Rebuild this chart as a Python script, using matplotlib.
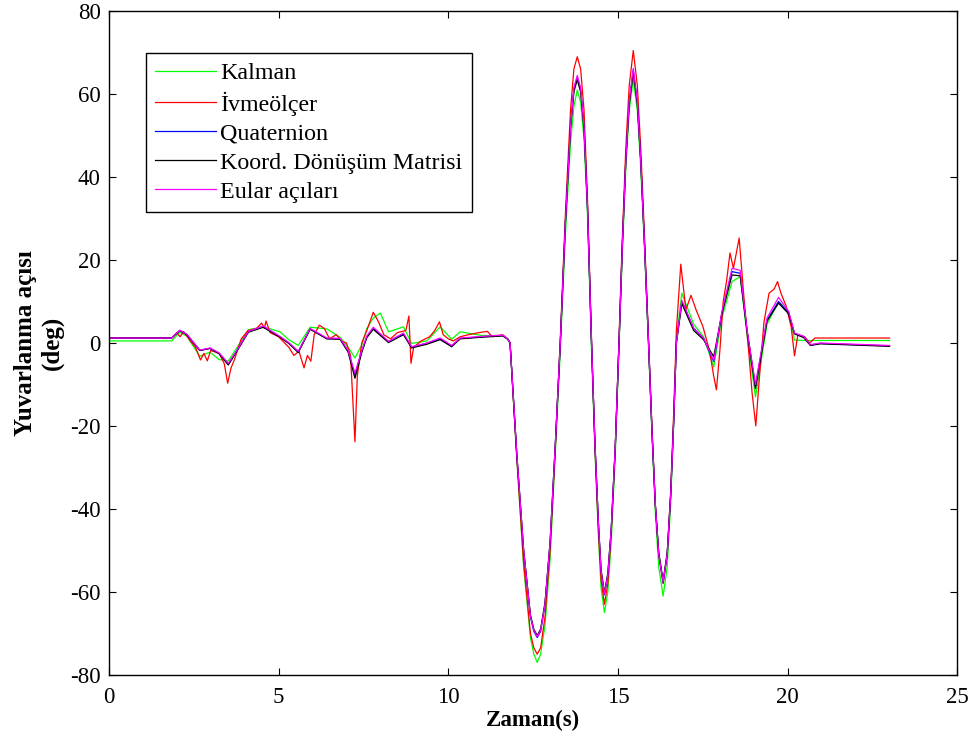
import matplotlib
matplotlib.use("Agg")
import matplotlib.pyplot as plt

plt.rcParams['font.family'] = ['Liberation Serif', 'DejaVu Serif']
plt.rcParams['axes.unicode_minus'] = False

# time base for the smooth estimators (s)
t = [0.0, 1.85, 2.09, 2.3, 2.68, 2.98, 3.25, 3.52, 3.8, 4.11,
     4.55, 5.04, 5.3, 5.58, 5.93, 6.42, 6.81, 7.05, 7.25, 7.45,
     7.6, 7.79, 8.0, 8.24, 8.68, 8.92, 9.37, 9.76, 10.1, 10.35,
     11.0, 11.6, 11.75,
     11.82, 12.02, 12.22, 12.42, 12.52, 12.62, 12.72, 12.85, 13.0, 13.15,
     13.3, 13.45, 13.6, 13.7, 13.8, 13.9, 14.0, 14.1, 14.22, 14.32,
     14.42, 14.5, 14.6, 14.7, 14.8, 14.92, 15.03, 15.13, 15.23, 15.33,
     15.45, 15.57, 15.67, 15.78, 15.9, 16.0, 16.1, 16.2, 16.33, 16.45,
     16.55, 16.64, 16.72,
     16.88, 17.23, 17.52, 17.82, 18.06, 18.36, 18.6, 18.8, 19.05, 19.39,
     19.73, 20.03, 20.2, 20.47, 20.67, 20.96, 23.0]

quaternion = [1.2, 1.2, 3.0, 2.0, -1.8, -1.3, -2.5, -5.1, -1.5, 2.7,
              3.9, 1.5, 0.0, -2.1, 3.4, 1.1, 1.0, -2.0, -7.7, -2.0,
              1.5, 3.5, 2.0, 0.3, 2.2, -1.0, -0.1, 1.0, -0.7, 1.1,
              1.5, 1.8, 1.0,
              0, -27, -50, -66, -69.5, -71, -69.5, -63, -48, -25,
              0, 29, 52, 61, 64, 61, 52, 33, 0, -24,
              -43, -55, -60.7, -56, -45, -25, 0, 24, 44, 58,
              65.8, 58, 44, 24, 0, -21, -39, -51, -57.8, -51,
              -37, -19, 0,
              10, 3.5, 1.1, -4.5, 7.2, 17.2, 16.8, 3.1, -10.5, 5.5,
              10, 7.2, 2.3, 1.5, -0.5, -0.1, -0.7]

koord = [1.2, 1.2, 3.0, 2.0, -1.8, -1.3, -2.6, -5.3, -1.6, 2.6,
         3.8, 1.4, -0.1, -2.3, 3.3, 1.0, 0.9, -2.2, -8.5, -2.3,
         1.3, 3.3, 1.8, 0.1, 2.0, -1.2, -0.3, 0.8, -0.9, 1.0,
         1.4, 1.7, 1.0,
         0, -27, -50, -65.5, -69, -70.5, -69, -62.5, -48, -25,
         0, 29, 51.5, 60.5, 63.5, 60.5, 51.5, 33, 0, -24,
         -43, -54.5, -60.2, -55.5, -45, -25, 0, 24, 44, 57.5,
         65.3, 57.5, 44, 24, 0, -21, -39, -50.5, -57.3, -50.5,
         -37, -19, 0,
         9.5, 3.0, 0.8, -3.3, 7.0, 16.4, 16.2, 3.0, -11.0, 5.3,
         9.6, 7.0, 2.2, 1.3, -0.6, -0.2, -0.8]

euler = [1.2, 1.2, 3.1, 2.1, -1.7, -1.2, -2.4, -4.9, -1.4, 2.8,
         4.1, 1.6, 0.1, -2.0, 3.5, 1.2, 1.1, -1.8, -7.3, -1.8,
         1.7, 3.8, 2.2, 0.4, 2.4, -0.9, 0.0, 1.2, -0.6, 1.2,
         1.6, 1.9, 1.0,
         0, -27, -50, -65.8, -69.3, -70.8, -69.3, -63, -48, -25,
         0, 29, 52, 61.5, 64.5, 61.5, 52, 33, 0, -24,
         -43, -55, -60.5, -56, -45, -25, 0, 24, 44, 58.3,
         66.2, 58.3, 44, 24, 0, -21, -39, -51, -57.5, -51,
         -37, -19, 0,
         10.3, 3.6, 1.2, -4.3, 7.5, 18.0, 17.5, 3.3, -10.0, 6.0,
         11.0, 7.6, 2.4, 1.6, -0.4, 0.0, -0.6]

kalman = [0.5, 0.5, 2.6, 1.6, -3.2, -2.2, -4.0, -4.3, -0.8, 3.2,
          3.9, 2.7, 0.8, -0.6, 3.8, 3.4, 1.4, -1.0, -3.6, -0.5,
          3.5, 6.0, 7.2, 2.7, 3.9, -0.1, 0.5, 3.9, 0.9, 2.7,
          1.8, 1.8, 0.8,
          0, -28, -54, -71, -75, -77, -75, -68, -52, -27,
          -2, 26, 48, 57, 61, 58, 49, 31, -2, -26,
          -46, -59, -65, -60, -48, -27, -1, 22, 42, 56,
          63.5, 56, 42, 23, -1, -22, -41, -54, -61, -54,
          -39, -20, 1,
          12, 4.5, 1.5, -5.8, 6.0, 14.8, 16.0, 2.0, -13, 4.5,
          10, 7.4, 0.7, 0.6, 0.6, 0.6, 0.6]

# accelerometer estimate is noisier, so it has its own time base
t_acc = [0.0, 1.85, 2.0, 2.1, 2.2, 2.4, 2.55, 2.7, 2.8, 2.9,
         3.0, 3.25, 3.4, 3.5, 3.6, 3.7, 3.9, 4.1, 4.35, 4.5,
         4.58, 4.63, 4.75, 5.0, 5.3, 5.45, 5.6, 5.75, 5.85, 5.95,
         6.05, 6.2, 6.35, 6.5, 6.7, 6.85, 7.0, 7.12, 7.25, 7.32,
         7.45, 7.6, 7.79, 7.95, 8.1, 8.3, 8.5, 8.75, 8.84, 8.9,
         8.98, 9.2, 9.45, 9.6, 9.74, 9.85, 10.0, 10.15, 10.35, 10.6,
         10.9, 11.15, 11.3, 11.6, 11.75,
         11.82, 12.02, 12.22, 12.42, 12.52, 12.62, 12.72, 12.85, 13.0, 13.15,
         13.3, 13.45, 13.6, 13.7, 13.8, 13.9, 14.0, 14.1, 14.22, 14.32,
         14.42, 14.5, 14.6, 14.7, 14.8, 14.92, 15.03, 15.13, 15.23, 15.33,
         15.45, 15.57, 15.67, 15.78, 15.9, 16.0, 16.1, 16.2, 16.33, 16.45,
         16.55, 16.64, 16.72,
         16.85, 17.0, 17.15, 17.3, 17.5, 17.7, 17.82, 17.9, 18.0, 18.1,
         18.2, 18.3, 18.4, 18.57, 18.7, 18.85, 18.95, 19.06, 19.15, 19.3,
         19.45, 19.6, 19.7, 19.8, 19.95, 20.1, 20.2, 20.3, 20.5, 20.65,
         20.8, 23.0]

ivmeolcer = [1.2, 1.2, 2.5, 1.5, 2.8, 0.5, -1.0, -4.1, -2.5, -4.3,
             -1.8, -2.5, -5.0, -9.7, -6.0, -4.0, 1.0, 3.0, 3.5, 4.8,
             3.5, 5.3, 2.5, 1.5, -1.0, -3.0, -2.0, -6.0, -3.0, -4.4,
             2.0, 4.3, 3.5, 1.0, 2.0, 0.5, 0.0, -3.0, -23.8, -8.0,
             0.0, 3.0, 7.4, 5.0, 2.0, 1.0, 2.5, 3.0, 6.5, -4.9,
             -1.0, 0.5, 1.5, 3.0, 5.1, 2.0, 1.0, 0.5, 1.5, 2.0,
             2.5, 2.8, 1.5, 2.0, 1.0,
             0, -28, -53, -70, -73.5, -75, -73.5, -66, -50, -26,
             1, 31, 56, 66, 69, 66, 56, 35, 1, -25,
             -45, -57, -63, -58, -46, -25, 1, 26, 47, 62,
             70.5, 62, 47, 26, 1, -20, -39, -51, -58, -51,
             -36, -17, 3,
             19, 8, 11.5, 8, 4, -2, -8, -11.3, -2, 10,
             15, 21.7, 18, 25.3, 12, -2, -12, -20, -10, 5,
             12, 13, 14.8, 12, 9, 4, -3.1, 2, 1.5, 0,
             1.2, 1.2]

fig = plt.figure(figsize=(9.72, 7.40), dpi=100)
ax = fig.add_axes([0.112, 0.088, 0.873, 0.897])

ax.plot(t, kalman, color='#00ff00', lw=0.9, label='Kalman')
ax.plot(t_acc, ivmeolcer, color='#ff0000', lw=0.9, label='İvmeölçer')
ax.plot(t, quaternion, color='#0000ff', lw=0.9, label='Quaternion')
ax.plot(t, koord, color='#000000', lw=0.9, label='Koord. Dönüşüm Matrisi')
ax.plot(t, euler, color='#ff00ff', lw=0.9, label='Eular açıları')

ax.set_xlim(0, 25)
ax.set_ylim(-80, 80)
ax.set_xticks([0, 5, 10, 15, 20, 25])
ax.set_yticks([-80, -60, -40, -20, 0, 20, 40, 60, 80])
ax.tick_params(direction='in', top=True, right=True, length=5, width=0.8,
               labelsize=16.5)
ax.tick_params(axis='x', pad=9)
ax.tick_params(axis='y', pad=6)
for s in ax.spines.values():
    s.set_linewidth(1.0)

ax.set_xlabel('Zaman(s)', fontsize=16.5, fontweight='bold', labelpad=1)
ax.set_ylabel('Yuvarlanma açısı\n(deg)', fontsize=18, fontweight='bold', labelpad=4)

leg = ax.legend(loc='upper left', bbox_to_anchor=(0.0436, 0.937), borderaxespad=0,
                fontsize=17.3, frameon=True, fancybox=False, framealpha=1,
                edgecolor='black', handlelength=2.5, handletextpad=0.2,
                labelspacing=0.3, borderpad=0.4)
leg.get_frame().set_linewidth(1.0)

fig.savefig('out.png', dpi=100)
